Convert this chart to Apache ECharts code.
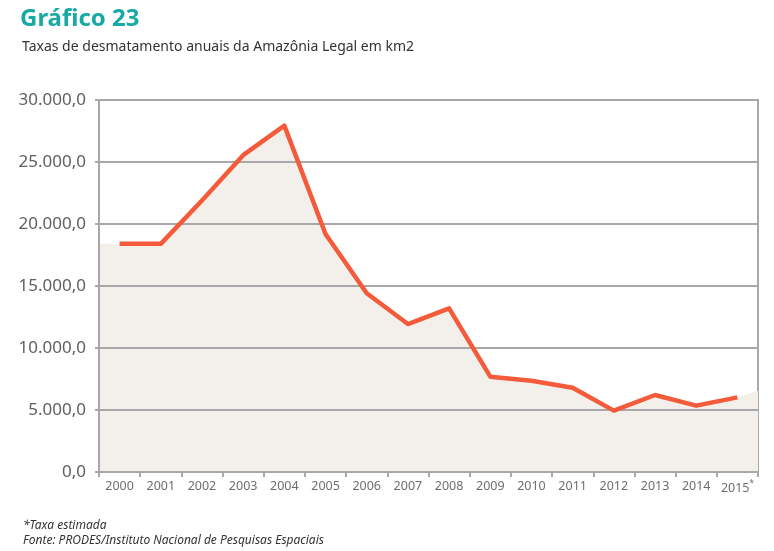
<!DOCTYPE html>
<html>
<head>
<meta charset="utf-8">
<script src="https://cdn.jsdelivr.net/npm/echarts@6/dist/echarts.min.js"></script>
<style>
html,body{margin:0;padding:0;background:#fff;}
#chart{width:774px;height:551px;}
</style>
</head>
<body>
<div id="chart"></div>
<script>
const years = ['2000','2001','2002','2003','2004','2005','2006','2007','2008','2009','2010','2011','2012','2013','2014','2015'];
const rates = [18400,18400,21900,25550,27930,19190,14410,11930,13200,7690,7360,6800,4950,6210,5350,6020];
// background area extends to the plot edges
const areaLeftEdge = 18400;
const areaRightEdge = 6560;
const yTicks = {min:0, max:30000, interval:5000};

const areaData = [[0, areaLeftEdge]]
  .concat(rates.map((v,i)=>[i+0.5, v]))
  .concat([[years.length, areaRightEdge]]);

const grey = '#a8a8ab';
const chart = echarts.init(document.getElementById('chart'));
chart.setOption({
  animation:false,
  textStyle:{fontFamily:'Noto Sans'},
  title:[
    {text:'Gráfico 23', left:15, top:2, textStyle:{color:'#17a9a6', fontSize:24, fontWeight:'bold', fontFamily:'Noto Sans'}},
    {text:'Taxas de desmatamento anuais da Amazônia Legal em km2', left:17, top:35, textStyle:{color:'#333', fontSize:14, fontWeight:'normal', fontFamily:'Noto Sans'}},
    {text:'*Taxa estimada\nFonte: PRODES/Instituto Nacional de Pesquisas Espaciais', left:18, top:513, textStyle:{color:'#333', fontSize:12, fontStyle:'italic', fontWeight:'normal', lineHeight:15, fontFamily:'Noto Sans'}}
  ],
  grid:{left:99, right:16, top:100, bottom:79, show:true, borderColor:grey, borderWidth:2, backgroundColor:'transparent'},
  xAxis:[
    {type:'category', data:years, boundaryGap:true,
     axisLine:{show:true, lineStyle:{color:grey, width:2}},
     axisTick:{show:true, length:5, interval:0, lineStyle:{color:grey, width:2}},
     axisLabel:{color:'#6d6e71', fontSize:12.5, margin:8, interval:0,
       formatter:(v)=> v===years[years.length-1] ? v+'{s|*}' : v,
       rich:{s:{fontSize:8, color:'#6d6e71', verticalAlign:'top', padding:[0,0,8,0]}}},
     splitLine:{show:false}},
    {type:'value', min:0, max:years.length, show:false, splitLine:{show:false}}
  ],
  yAxis:{type:'value', min:yTicks.min, max:yTicks.max, interval:yTicks.interval, z:1,
    axisLine:{show:true, lineStyle:{color:grey, width:2}},
    axisTick:{show:true, length:4, lineStyle:{color:grey, width:2}},
    axisLabel:{color:'#5f6062', fontSize:17, margin:13,
      formatter:(v)=> v.toLocaleString('de-DE',{minimumFractionDigits:1, maximumFractionDigits:1})},
    splitLine:{show:true, lineStyle:{color:grey, width:2}}},
  series:[
    {type:'line', xAxisIndex:1, data:areaData, symbol:'none', lineStyle:{width:0},
     areaStyle:{color:'#f3f0eb', opacity:1}, z:0, silent:true},
    {type:'line', xAxisIndex:0, data:rates, symbol:'none',
     lineStyle:{color:'#f45b3a', width:4.5, join:'round'}, z:3}
  ]
});
</script>
</body>
</html>
